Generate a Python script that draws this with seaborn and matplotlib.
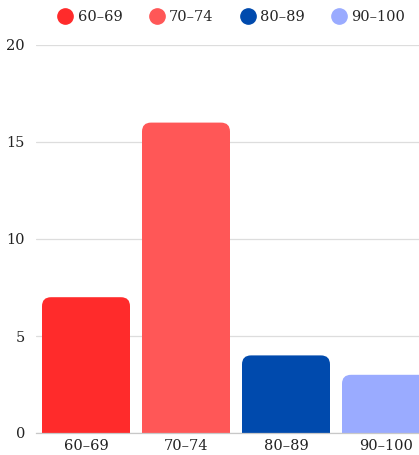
import matplotlib
matplotlib.use('Agg')
import matplotlib.pyplot as plt
import seaborn as sns
import pandas as pd
from matplotlib.patches import FancyBboxPatch
from matplotlib.lines import Line2D

# Dados
faixas = ['60–69', '70–74', '80–89', '90–100']
contagens = [7, 16, 4, 3]
cores = ['#FF2B2B', '#FF5757', '#004AAD', '#9AABFF']
yticks = [0, 5, 10, 15, 20]

sns.set_theme(style='white')
plt.rcParams['font.family'] = ['DejaVu Serif']

fig = plt.figure(figsize=(4.19, 4.55), dpi=100)
ax = fig.add_axes([36 / 419, 22 / 455, 400 / 419, 388 / 455])

df = pd.DataFrame({'faixa': faixas, 'n': contagens})
sns.barplot(data=df, x='faixa', y='n', hue='faixa', palette=cores,
            width=0.88, legend=False, ax=ax, zorder=3)

# Trocar barras por retangulos com cantos arredondados
rx = 0.09
aspect = 5.15
for patch, cor in zip(list(ax.patches), cores):
    x0 = patch.get_x()
    w = patch.get_width()
    h = patch.get_height()
    patch.remove()
    r = rx * aspect
    bar = FancyBboxPatch((x0, -r), w, h + r,
                         boxstyle=f'round,pad=0,rounding_size={rx}',
                         mutation_aspect=aspect,
                         facecolor=cor, edgecolor='none', zorder=3)
    ax.add_patch(bar)

ax.set_ylim(0, 20)
ax.set_xlim(-0.5, 3.5)
ax.set_yticks(yticks)
ax.set_xlabel('')
ax.set_ylabel('')
ax.grid(axis='y', color='#dddddd', linewidth=0.9, zorder=0)
for s in ['top', 'right', 'left']:
    ax.spines[s].set_visible(False)
ax.spines['bottom'].set_color('#c8c8c8')
ax.spines['bottom'].set_linewidth(0.9)
ax.spines['bottom'].set_zorder(4)
ax.tick_params(axis='both', length=0, labelsize=10.5, colors='#222222')
ax.tick_params(axis='x', pad=4)
ax.tick_params(axis='y', pad=8)

handles = [Line2D([0], [0], marker='o', linestyle='', markersize=11,
                  markerfacecolor=c, markeredgecolor=c, label=f)
           for f, c in zip(faixas, cores)]
fig.legend(handles=handles, loc='center', bbox_to_anchor=(0.553, 0.962),
           ncol=4, frameon=False, fontsize=10.5, handletextpad=0.35,
           columnspacing=1.85, handlelength=1.0)

plt.savefig('out.png', dpi=100)
plt.close()
